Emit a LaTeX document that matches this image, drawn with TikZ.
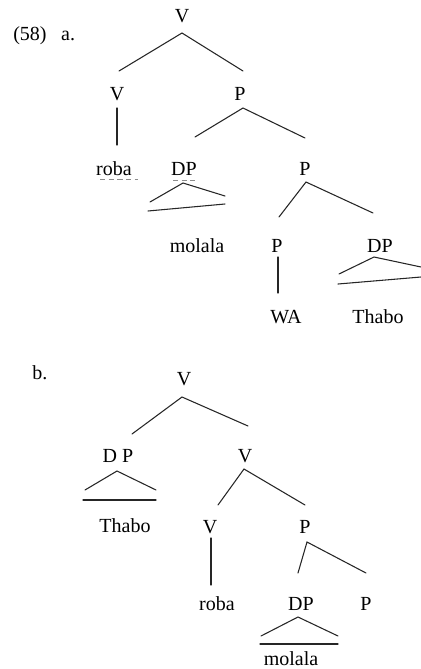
\documentclass[tikz,border=0pt]{standalone}
\usepackage{fontspec}
\setmainfont{Liberation Serif}
\begin{document}
\begin{tikzpicture}[x=0.75pt,y=-0.75pt,
  lbl/.style={anchor=base,inner sep=0pt,font=\fontsize{15}{18}\selectfont},
  br/.style={line width=0.8pt,black!85,line cap=round},
  uline/.style={line width=0.6pt,black!45,dash pattern=on 4pt off 2.5pt}]
\useasboundingbox (0,0) rectangle (421,669);

% ---------- (58) a. ----------
\node[lbl,anchor=base west] (numa) at (13,40) {(58)\hspace{11pt}a.};
\node[lbl] (aV) at (182,22) {V};
\node[lbl] (aV2) at (117,100) {V};
\node[lbl] (aP) at (240,100) {P};
\node[lbl] (aroba) at (114,175) {roba};
\node[lbl] (aDP) at (184,175) {DP};
\node[lbl] (aP2) at (305,175) {P};
\node[lbl] (amolala) at (197,252) {molala};
\node[lbl] (aP3) at (277,252) {P};
\node[lbl] (aDP2) at (380,252) {DP};
\node[lbl] (aWA) at (286,323) {WA};
\node[lbl] (aThabo) at (378,323) {Thabo};

\coordinate (a1) at (182,33); \coordinate (a1l) at (119,71); \coordinate (a1r) at (243,71);
\coordinate (a2t) at (117,108); \coordinate (a2b) at (117,145);
\coordinate (a3) at (243,108); \coordinate (a3l) at (195,137); \coordinate (a3r) at (305,138);
\coordinate (a4) at (183,183); \coordinate (a4l) at (150,202); \coordinate (a4r) at (225,196);
\coordinate (a4bl) at (148,211); \coordinate (a4br) at (225,204);
\coordinate (a5) at (306,182); \coordinate (a5l) at (279,217); \coordinate (a5r) at (373,213);
\coordinate (a6t) at (278,257); \coordinate (a6b) at (278,293);
\coordinate (a7) at (374,257); \coordinate (a7l) at (339,274); \coordinate (a7r) at (421,267);
\coordinate (a7bl) at (338,284); \coordinate (a7br) at (421,277);
\coordinate (u1l) at (100,179); \coordinate (u1r) at (138,179);
\coordinate (u2l) at (173,180); \coordinate (u2r) at (195,180);

\draw[br] (a1l) -- (a1) -- (a1r);
\draw[br] (a2t) -- (a2b);
\draw[br] (a3l) -- (a3) -- (a3r);
\draw[br] (a4l) -- (a4) -- (a4r);
\draw[br] (a4bl) -- (a4br);
\draw[br] (a5l) -- (a5) -- (a5r);
\draw[br] (a6t) -- (a6b);
\draw[br] (a7l) -- (a7) -- (a7r);
\draw[br] (a7bl) -- (a7br);
\draw[uline] (u1l) -- (u1r);
\draw[uline] (u2l) -- (u2r);

% ---------- b. ----------
\node[lbl,anchor=base west] (numb) at (32,379) {b.};
\node[lbl] (bV) at (184,385) {V};
\node[lbl] (bDP) at (118,462) {D P};
\node[lbl] (bV2) at (245,462) {V};
\node[lbl] (bThabo) at (125,532) {Thabo};
\node[lbl] (bV3) at (210,533) {V};
\node[lbl] (bP) at (305,533) {P};
\node[lbl] (broba) at (217,610) {roba};
\node[lbl] (bDP2) at (301,610) {DP};
\node[lbl] (bP2) at (366,610) {P};
\node[lbl] (bmolala) at (291,665) {molala};

\coordinate (b1) at (182,397); \coordinate (b1l) at (132,434); \coordinate (b1r) at (248,426);
\coordinate (b2) at (117,471); \coordinate (b2l) at (85,490); \coordinate (b2r) at (156,490);
\coordinate (b2bl) at (83,500); \coordinate (b2br) at (156,500);
\coordinate (b3) at (244,469); \coordinate (b3l) at (218,505); \coordinate (b3r) at (305,505);
\coordinate (b4t) at (211,538); \coordinate (b4b) at (211,585);
\coordinate (b5) at (307,542); \coordinate (b5l) at (298,573); \coordinate (b5r) at (366,573);
\coordinate (b6) at (298,617); \coordinate (b6l) at (261,636); \coordinate (b6r) at (338,636);
\coordinate (b6bl) at (260,644); \coordinate (b6br) at (338,644);

\draw[br] (b1l) -- (b1) -- (b1r);
\draw[br] (b2l) -- (b2) -- (b2r);
\draw[br] (b2bl) -- (b2br);
\draw[br] (b3l) -- (b3) -- (b3r);
\draw[br] (b4t) -- (b4b);
\draw[br] (b5l) -- (b5) -- (b5r);
\draw[br] (b6l) -- (b6) -- (b6r);
\draw[br] (b6bl) -- (b6br);
\end{tikzpicture}
\end{document}
